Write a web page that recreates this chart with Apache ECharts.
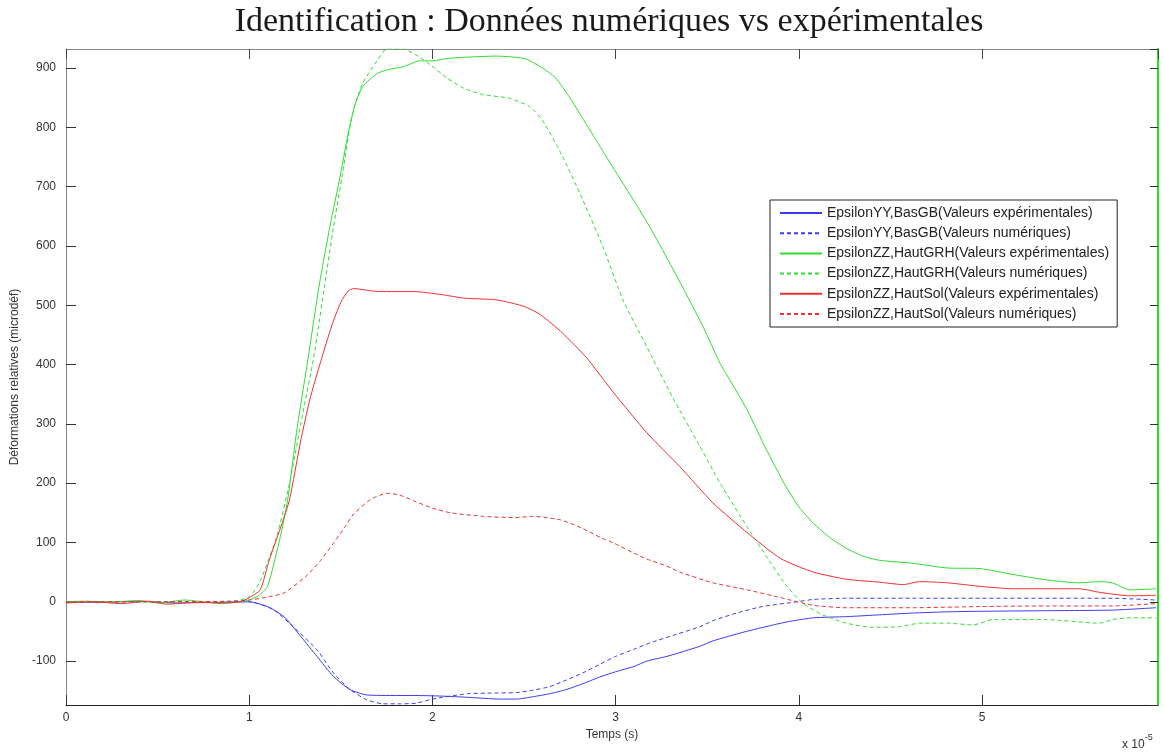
<!DOCTYPE html>
<html>
<head>
<meta charset="utf-8">
<script src="https://cdn.jsdelivr.net/npm/echarts@6/dist/echarts.min.js"></script>
<style>
html,body{margin:0;padding:0;background:#fff;}
#chart{width:1164px;height:752px;}
</style>
</head>
<body>
<div id="chart"></div>
<script>
// ---- Data (x in units of 1e-5 s, y in microdef) ----
var titleText = 'Identification : Données numériques vs expérimentales';
var xName = 'Temps (s)';
var yName = 'Déformations relatives (microdéf)';
var xTicks = [0, 1, 2, 3, 4, 5];
var yTicks = [-100, 0, 100, 200, 300, 400, 500, 600, 700, 800, 900];
var seriesNames = [
  'EpsilonYY,BasGB(Valeurs expérimentales)',
  'EpsilonYY,BasGB(Valeurs numériques)',
  'EpsilonZZ,HautGRH(Valeurs expérimentales)',
  'EpsilonZZ,HautGRH(Valeurs numériques)',
  'EpsilonZZ,HautSol(Valeurs expérimentales)',
  'EpsilonZZ,HautSol(Valeurs numériques)'
];

var yyBasExp = [[0,0],[0.2,-1],[0.4,1],[0.6,-2],[0.8,-1],[0.95,0],[1.0,0],[1.1,-8],[1.19,-25],[1.28,-58],[1.37,-92],[1.46,-126],[1.55,-148],[1.64,-157],[1.8,-158],[1.91,-158],[2.05,-159],[2.19,-161],[2.37,-164],[2.46,-164],[2.55,-160],[2.64,-155],[2.73,-148],[2.83,-137],[2.92,-126],[3.0,-118],[3.10,-109],[3.17,-100],[3.28,-92],[3.46,-75],[3.53,-66],[3.7,-51],[3.86,-39],[3.95,-33],[4.08,-27],[4.26,-25],[4.44,-22],[4.62,-19],[4.8,-17],[4.99,-16],[5.35,-15],[5.71,-14],[5.95,-10]];

var yyBasNum = [[0,0],[0.5,0],[1.0,0],[1.13,-13],[1.24,-42],[1.37,-81],[1.46,-120],[1.55,-148],[1.64,-165],[1.73,-172],[1.82,-172],[1.91,-171],[2.0,-164],[2.19,-155],[2.3,-154],[2.46,-153],[2.55,-149],[2.64,-143],[2.73,-132],[2.82,-120],[2.91,-106],[3.0,-92],[3.1,-80],[3.19,-69],[3.33,-55],[3.46,-42],[3.53,-32],[3.66,-19],[3.8,-8],[3.99,0],[4.08,4],[4.26,6],[4.62,6],[5.0,6],[5.71,6],[5.95,3]];

var zzGrhExp = [[0,0],[0.1,1],[0.25,0],[0.4,2],[0.5,-2],[0.65,3],[0.75,0],[0.85,-3],[0.95,0],[1.0,3],[1.05,10],[1.1,26],[1.17,110],[1.21,172],[1.26,290],[1.32,408],[1.38,530],[1.44,632],[1.50,723],[1.54,790],[1.58,841],[1.62,869],[1.70,891],[1.77,898],[1.84,902],[1.93,912],[2.0,912],[2.08,916],[2.17,918],[2.35,920],[2.50,916],[2.59,902],[2.67,884],[2.75,850],[2.82,815],[2.91,770],[3.0,725],[3.10,676],[3.19,630],[3.29,574],[3.39,516],[3.48,462],[3.57,402],[3.65,360],[3.72,322],[3.82,258],[3.93,194],[4.0,160],[4.08,132],[4.17,108],[4.26,90],[4.35,77],[4.44,70],[4.62,65],[4.81,57],[4.99,56],[5.17,46],[5.35,37],[5.53,32],[5.64,34],[5.71,32],[5.81,20],[5.95,22]];

var zzGrhNum = [[0,0],[0.5,0],[0.9,1],[1.0,8],[1.06,35],[1.15,110],[1.22,200],[1.30,330],[1.35,408],[1.41,530],[1.46,632],[1.51,723],[1.56,818],[1.62,875],[1.70,913],[1.75,932],[1.84,932],[1.91,922],[1.99,905],[2.08,883],[2.17,866],[2.28,855],[2.42,849],[2.53,835],[2.60,812],[2.71,751],[2.82,678],[2.93,599],[3.04,509],[3.17,430],[3.31,345],[3.46,262],[3.57,200],[3.72,125],[3.82,78],[3.93,28],[4.02,-2],[4.13,-22],[4.26,-36],[4.40,-43],[4.55,-42],[4.66,-36],[4.81,-36],[4.95,-39],[5.06,-30],[5.35,-30],[5.64,-36],[5.71,-30],[5.81,-27],[5.95,-27]];

var zzSolExp = [[0,-2],[0.15,0],[0.3,-3],[0.45,1],[0.55,-4],[0.7,-1],[0.85,-2],[0.95,0],[1.0,7],[1.06,20],[1.11,71],[1.18,133],[1.22,172],[1.28,270],[1.33,340],[1.39,405],[1.45,465],[1.50,505],[1.54,524],[1.57,528],[1.71,523],[1.90,523],[2.05,518],[2.17,512],[2.35,509],[2.50,498],[2.59,484],[2.71,453],[2.84,412],[2.99,352],[3.17,285],[3.35,228],[3.53,167],[3.72,116],[3.90,73],[4.08,50],[4.26,38],[4.44,33],[4.57,29],[4.66,34],[4.81,32],[4.99,26],[5.17,22],[5.35,22],[5.53,22],[5.64,16],[5.81,10],[5.95,11]];

var zzSolNum = [[0,0],[0.5,0],[0.9,1],[1.0,3],[1.1,8],[1.19,15],[1.31,43],[1.39,70],[1.46,99],[1.52,125],[1.57,148],[1.66,172],[1.75,183],[1.82,180],[1.9,170],[2.0,158],[2.1,150],[2.28,144],[2.45,142],[2.55,144],[2.62,142],[2.70,138],[2.81,125],[2.92,108],[2.99,99],[3.10,82],[3.17,72],[3.28,60],[3.35,50],[3.53,32],[3.72,20],[3.90,7],[4.08,-6],[4.26,-10],[4.62,-10],[4.99,-8],[5.35,-7],[5.71,-7],[5.95,-3]];

var seriesData = [yyBasExp, yyBasNum, zzGrhExp, zzGrhNum, zzSolExp, zzSolNum];
var seriesColors = ['#3b3bf2', '#3b3bf2', '#2fdc2f', '#2fdc2f', '#f03030', '#f03030'];
var seriesDashed = [false, true, false, true, false, true];

var xMin = 0, xMax = 5.96;
var yMin = -174, yMax = 932;

// ---- Chart ----
var chart = echarts.init(document.getElementById('chart'), null, {renderer: 'canvas'});
var font = 'Liberation Sans, Arial, sans-serif';

var series = seriesData.map(function (d, i) {
  return {
    name: seriesNames[i],
    type: 'line',
    data: d,
    xAxisIndex: 0,
    yAxisIndex: 0,
    symbol: 'none',
    showSymbol: false,
    smooth: 0.2,
    lineStyle: {color: seriesColors[i], width: 1, type: seriesDashed[i] ? [4, 3] : 'solid'},
    itemStyle: {color: seriesColors[i]},
    emphasis: {disabled: true},
    z: 3
  };
});

var option = {
  animation: false,
  backgroundColor: '#ffffff',
  grid: {left: 66, right: 6, top: 49, bottom: 47, containLabel: false},
  graphic: [
    {type: 'text', x: 609, y: 5, style: {text: titleText, font: '34px "Liberation Serif", "DejaVu Serif", serif', fill: '#1a1a1a', align: 'center', verticalAlign: 'top'}},
    {type: 'text', x: 1122, y: 733, style: {
      text: '{a|x 10}{b|-5}',
      rich: {a: {fontSize: 12, fontFamily: font, fill: '#333', verticalAlign: 'bottom', padding: [6, 0, 0, 0]}, b: {fontSize: 9, fontFamily: font, fill: '#333', verticalAlign: 'top'}}
    }}
  ],
  legend: {
    orient: 'vertical',
    left: 770,
    top: 200,
    padding: [6, 8, 6, 9],
    itemWidth: 42,
    itemHeight: 14,
    itemGap: 6.2,
    backgroundColor: '#ffffff',
    borderColor: '#222',
    borderWidth: 1,
    borderRadius: 0,
    itemStyle: {opacity: 0, borderWidth: 0},
    textStyle: {fontFamily: font, fontSize: 14, color: '#222'},
    selectedMode: false,
    data: seriesNames
  },
  xAxis: [
    {
      type: 'value', position: 'bottom', min: xMin, max: xMax,
      minInterval: 1, maxInterval: 1,
      name: xName, nameLocation: 'middle', nameGap: 24,
      nameTextStyle: {fontFamily: font, fontSize: 12, color: '#333'},
      axisLine: {show: true, onZero: false, lineStyle: {color: '#222', width: 1}},
      axisTick: {show: true, inside: true, length: 10, lineStyle: {color: '#333'}},
      axisLabel: {show: true, showMaxLabel: false, margin: 7, fontFamily: font, fontSize: 12, color: '#333',
        formatter: function (v) { return xTicks.indexOf(v) >= 0 ? String(v) : ''; }},
      splitLine: {show: false}
    },
    {
      type: 'value', position: 'top', min: xMin, max: xMax,
      minInterval: 1, maxInterval: 1,
      axisLine: {show: true, onZero: false, lineStyle: {color: '#888', width: 1}},
      axisTick: {show: true, inside: true, length: 10, lineStyle: {color: '#444'}},
      axisLabel: {show: false},
      splitLine: {show: false}
    }
  ],
  yAxis: [
    {
      type: 'value', position: 'left', min: yMin, max: yMax,
      minInterval: 100, maxInterval: 100,
      name: yName, nameLocation: 'middle', nameGap: 43, nameRotate: 90,
      nameTextStyle: {fontFamily: font, fontSize: 12, color: '#333'},
      axisLine: {show: true, onZero: false, lineStyle: {color: '#888', width: 1}},
      axisTick: {show: true, inside: true, length: 10, lineStyle: {color: '#333'}},
      axisLabel: {show: true, showMinLabel: false, showMaxLabel: false, margin: 10, fontFamily: font, fontSize: 12, color: '#333',
        formatter: function (v) { return yTicks.indexOf(v) >= 0 ? String(v) : ''; }},
      splitLine: {show: false}
    },
    {
      type: 'value', position: 'right', min: yMin, max: yMax,
      minInterval: 100, maxInterval: 100,
      axisLine: {show: true, onZero: false, lineStyle: {color: '#22e622', width: 2}},
      axisTick: {show: true, inside: true, length: 8, lineStyle: {color: '#333'}},
      axisLabel: {show: false},
      splitLine: {show: false}
    }
  ],
  series: series
};
chart.setOption(option);
</script>
</body>
</html>
